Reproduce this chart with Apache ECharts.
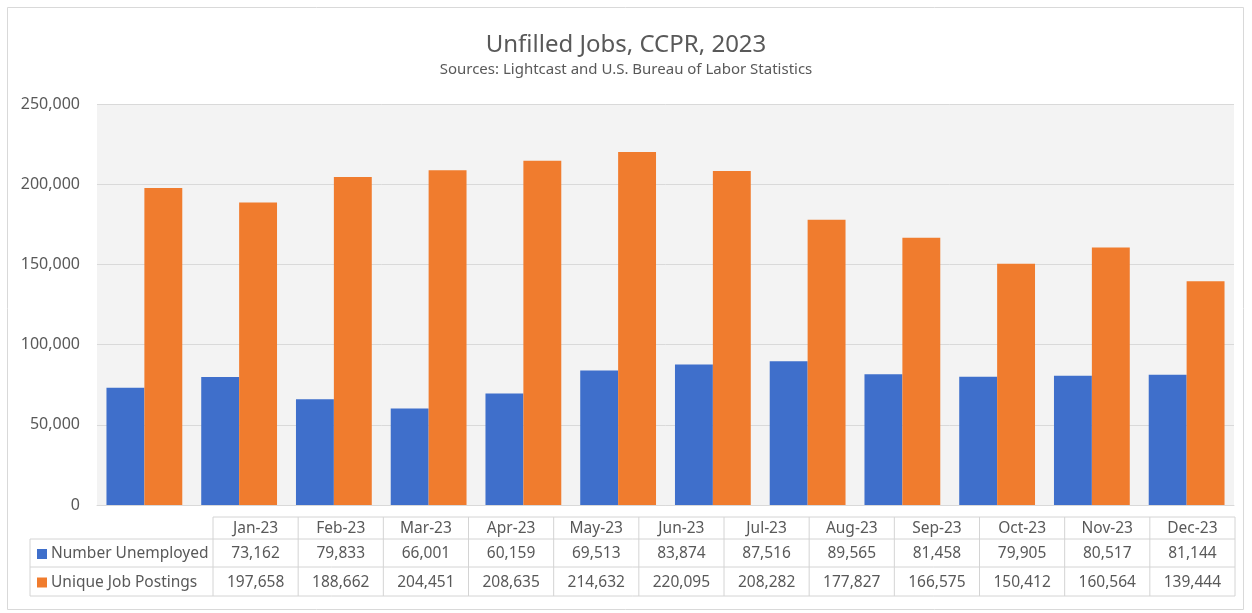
<!DOCTYPE html>
<html>
<head>
<meta charset="utf-8">
<script src="https://cdn.jsdelivr.net/npm/echarts@6/dist/echarts.min.js"></script>
<style>
  html, body { margin: 0; padding: 0; background: #fff; }
  #chart { width: 1252px; height: 613px; }
</style>
</head>
<body>
<div id="chart"></div>
<script>
var months = ['Jan-23', 'Feb-23', 'Mar-23', 'Apr-23', 'May-23', 'Jun-23',
              'Jul-23', 'Aug-23', 'Sep-23', 'Oct-23', 'Nov-23', 'Dec-23'];
var unemployed = [73162, 79833, 66001, 60159, 69513, 83874,
                  87516, 89565, 81458, 79905, 80517, 81144];
var postings = [197658, 188662, 204451, 208635, 214632, 220095,
                208282, 177827, 166575, 150412, 160564, 139444];
var seriesNames = ['Number Unemployed', 'Unique Job Postings'];
var colors = ['#3f6fcb', '#f07c2e'];

var FONT = 'Noto Sans';
var TXT = '#595959';

function fmt(v) {
    return v.toString().replace(/\B(?=(\d{3})+(?!\d))/g, ',');
}

// data table under the plot
function buildTable() {
    var els = [];
    var x0 = 30, x1 = 213, x2 = 1235;
    var colW = (x2 - x1) / months.length;
    var rows = [517, 539, 567, 596];
    var line = { stroke: '#d4d4d4', lineWidth: 1 };
    var font = '15.5px ' + FONT;

    // horizontal lines
    els.push({ type: 'line', shape: { x1: x1, y1: rows[0], x2: x2, y2: rows[0] }, style: line });
    for (var r = 1; r < rows.length; r++) {
        els.push({ type: 'line', shape: { x1: x0, y1: rows[r], x2: x2, y2: rows[r] }, style: line });
    }
    // vertical lines
    els.push({ type: 'line', shape: { x1: x0, y1: rows[1], x2: x0, y2: rows[3] }, style: line });
    for (var c = 0; c <= months.length; c++) {
        var x = x1 + c * colW;
        els.push({ type: 'line', shape: { x1: x, y1: rows[0], x2: x, y2: rows[3] }, style: line });
    }

    var rowData = [unemployed, postings];
    months.forEach(function (m, i) {
        var cx = x1 + (i + 0.5) * colW;
        els.push({ type: 'text', x: cx, y: (rows[0] + rows[1]) / 2 + 1,
            style: { text: m, fill: TXT, font: font, align: 'center', verticalAlign: 'middle' } });
        rowData.forEach(function (arr, k) {
            els.push({ type: 'text', x: cx, y: (rows[k + 1] + rows[k + 2]) / 2 + 1,
                style: { text: fmt(arr[i]), fill: TXT, font: font, align: 'center', verticalAlign: 'middle' } });
        });
    });

    seriesNames.forEach(function (name, k) {
        var cy = (rows[k + 1] + rows[k + 2]) / 2 + 1;
        els.push({ type: 'rect', shape: { x: 37, y: cy - 5, width: 10, height: 10 },
            style: { fill: colors[k] } });
        els.push({ type: 'text', x: 51, y: cy,
            style: { text: name, fill: TXT, font: font, align: 'left', verticalAlign: 'middle' } });
    });

    // outer chart frame
    els.push({ type: 'rect', shape: { x: 7.5, y: 7.5, width: 1236, height: 602 },
        style: { fill: null, stroke: '#d9d9d9', lineWidth: 1 }, z: -1 });
    return els;
}

var chart = echarts.init(document.getElementById('chart'));

var option = {
    animation: false,
    backgroundColor: '#fff',
    title: {
        text: 'Unfilled Jobs, CCPR, 2023',
        subtext: 'Sources: Lightcast and U.S. Bureau of Labor Statistics',
        left: 'center',
        top: 28,
        itemGap: 5,
        textStyle: { fontFamily: FONT, fontSize: 24, fontWeight: 'normal', color: TXT },
        subtextStyle: { fontFamily: FONT, fontSize: 15, color: TXT }
    },
    grid: {
        left: 97,
        right: 18,
        top: 104,
        bottom: 108,
        show: true,
        backgroundColor: '#f3f3f3',
        borderWidth: 0
    },
    xAxis: {
        type: 'category',
        data: months,
        axisLine: { show: true, lineStyle: { color: '#d9d9d9' } },
        axisTick: { show: false },
        axisLabel: { show: false }
    },
    yAxis: {
        type: 'value',
        min: 0,
        max: 250000,
        interval: 50000,
        axisLine: { show: false },
        axisTick: { show: false },
        splitLine: { lineStyle: { color: '#d9d9d9' } },
        axisLabel: {
            color: TXT,
            fontFamily: FONT,
            fontSize: 16,
            margin: 17,
            formatter: function (v) { return fmt(v); }
        }
    },
    series: [
        {
            name: seriesNames[0],
            type: 'bar',
            data: unemployed,
            barWidth: '40%',
            barGap: '0%',
            barCategoryGap: '20%',
            itemStyle: { color: colors[0] }
        },
        {
            name: seriesNames[1],
            type: 'bar',
            data: postings,
            barWidth: '40%',
            barGap: '0%',
            barCategoryGap: '20%',
            itemStyle: { color: colors[1] }
        }
    ],
    graphic: buildTable()
};

chart.setOption(option);
</script>
</body>
</html>
